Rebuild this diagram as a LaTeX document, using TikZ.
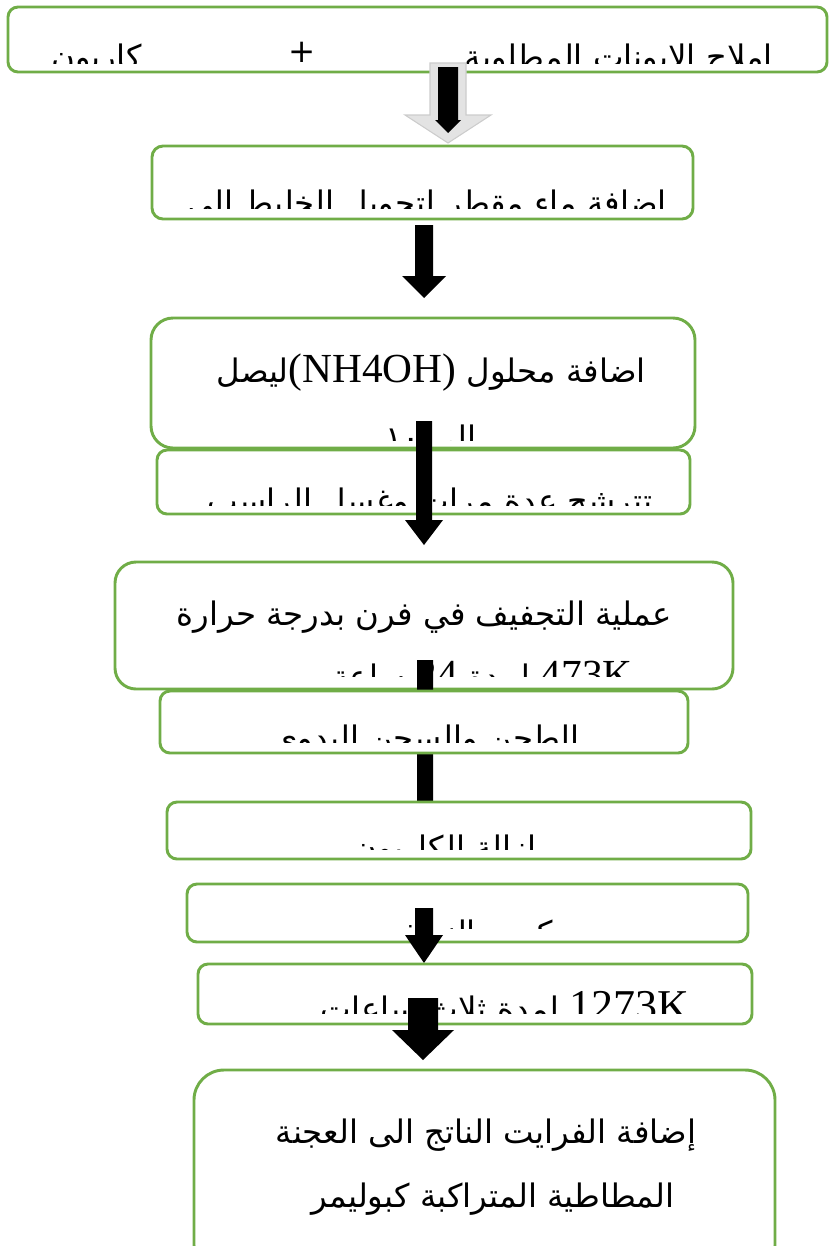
\documentclass[tikz,border=0pt]{standalone}
\usepackage{fontspec}
\TeXXeTstate=1
\newfontfamily\arabicfont[Script=Arabic]{DejaVu Sans}
\newfontfamily\latinfont{Liberation Serif}
\newcommand{\lat}[1]{\beginL{\latinfont\fontsize{31}{35}\selectfont #1}\endL{}}
\definecolor{boxgreen}{HTML}{70AD47}
\tikzset{
  stepbox/.style={draw=boxgreen, line width=2.2pt, fill=white, inner sep=0pt},
  artext/.style={font=\arabicfont\fontsize{24.3}{28}\selectfont, inner sep=0pt},
}
% box node: name, x1, y1, x2, y2, radius(px)
\newcommand{\flowbox}[6]{%
  \node[stepbox, rounded corners=#6*0.75pt, minimum width={(#4-#2)*0.75pt}, minimum height={(#5-#3)*0.75pt}]
    (#1) at ({(#2+#4)/2},{(#3+#5)/2}) {};}
% block arrow: cx, ytop, yhead, ytip, shaft half width, head half width
\newcommand{\blockarr}[7][black]{%
  \fill[#1] ({#2-#6},#3) -- ({#2+#6},#3) -- ({#2+#6},#4) -- ({#2+#7},#4) -- (#2,#5)
     -- ({#2-#7},#4) -- ({#2-#6},#4) -- cycle;}
\begin{document}
\begin{tikzpicture}[x=0.75pt,y=-0.75pt]
\useasboundingbox (0,0) rectangle (829,1246);
\clip (0,0) rectangle (829,1246);

% box 1
\flowbox{b1}{8}{7}{827}{72}{10}
\begin{scope}
  \clip (8,7) rectangle (827,63);
  \node[artext, anchor=base east] (t1a) at (773,68) {\beginR املاح الايونات المطلوبة\endR};
  \node[artext] (t1b) at (302,52) {+};
  \node[artext, anchor=base east] (t1c) at (142,68) {\beginR كاربون\endR};
\end{scope}

% grey arrow with black inner arrow
\fill[gray!22] (430,63) -- (466,63) -- (466,115) -- (491,115) -- (448,143) -- (405,115) -- (430,115) -- cycle;
\draw[gray!40, line width=0.8pt] (430,63) -- (466,63) -- (466,115) -- (491,115) -- (448,143) -- (405,115) -- (430,115) -- cycle;
\blockarr{448}{67}{120}{133}{10}{13}

% box 2
\flowbox{b2}{152}{146}{693}{219}{11}
\begin{scope}
  \clip (152,146) rectangle (693,208);
  \node[artext, anchor=base] (t2) at (427,214) {\beginR اضافة ماء مقطر لتحويل الخليط الى\endR};
\end{scope}
\blockarr{424}{225}{276}{298}{9}{22}

% box 3 and box 4
\flowbox{b3}{151}{318}{695}{448}{22}
\node[artext, anchor=base] (t3a) at (431,382) {\beginR اضافة محلول \lat{(NH4OH)}ليصل\endR};
\begin{scope}
  \clip (151,318) rectangle (695,440);
  \node[artext, anchor=base] (t3b) at (431,449) {\beginR الى ١٠\endR};
\end{scope}
\flowbox{b4}{157}{450}{690}{514}{10}
\begin{scope}
  \clip (157,450) rectangle (690,505);
  \node[artext, anchor=base] (t4) at (430,512) {\beginR تترشح عدة مرات وغسل الراسب\endR};
\end{scope}
\blockarr{424}{421}{520}{545}{8}{19}

% box 5, 6, 7
\flowbox{b5}{115}{562}{733}{689}{21}
\node[artext, anchor=base] (t5a) at (424,625) {\beginR عملية التجفيف في فرن بدرجة حرارة\endR};
\begin{scope}
  \clip (115,562) rectangle (733,676);
  \node[artext, anchor=base east] (t5b) at (633,688) {\beginR\lat{473K} لمدة \lat{24} ساعة\endR};
\end{scope}
\blockarr{425}{660}{812}{838}{8}{19}
\flowbox{b6}{160}{691}{688}{753}{10}
\begin{scope}
  \clip (160,691) rectangle (688,742);
  \node[artext, anchor=base] (t6) at (426,749) {\beginR الطحن والسحن اليدوي\endR};
\end{scope}
\flowbox{b7}{167}{802}{751}{859}{10}
\begin{scope}
  \clip (167,802) rectangle (751,849);
  \node[artext, anchor=base] (t7) at (445,859) {\beginR ازالة الكاربون\endR};
\end{scope}

% box 8, 9
\flowbox{b8}{187}{884}{748}{942}{10}
\begin{scope}
  \clip (187,884) rectangle (748,928);
  \node[artext, anchor=base] (t8) at (468,944) {\beginR كبس النماذج\endR};
\end{scope}
\blockarr{424}{908}{935}{963}{9}{19}
\flowbox{b9}{198}{964}{752}{1024}{10}
\begin{scope}
  \clip (198,964) rectangle (752,1013);
  \node[artext, anchor=base east] (t9) at (690,1020) {\beginR\beginL{\latinfont\fontsize{33}{37}\selectfont 1273K}\endL{} لمدة ثلاث ساعات\endR};
\end{scope}
\blockarr{423}{998}{1030}{1060}{15}{31}

% box 10
\flowbox{b10}{194}{1070}{775}{1275}{30}
\node[artext, anchor=base] (t10a) at (486,1143) {\beginR إضافة الفرايت الناتج الى العجنة\endR};
\node[artext, anchor=base] (t10b) at (493,1207) {\beginR المطاطية المتراكبة كبوليمر\endR};
\end{tikzpicture}
\end{document}
